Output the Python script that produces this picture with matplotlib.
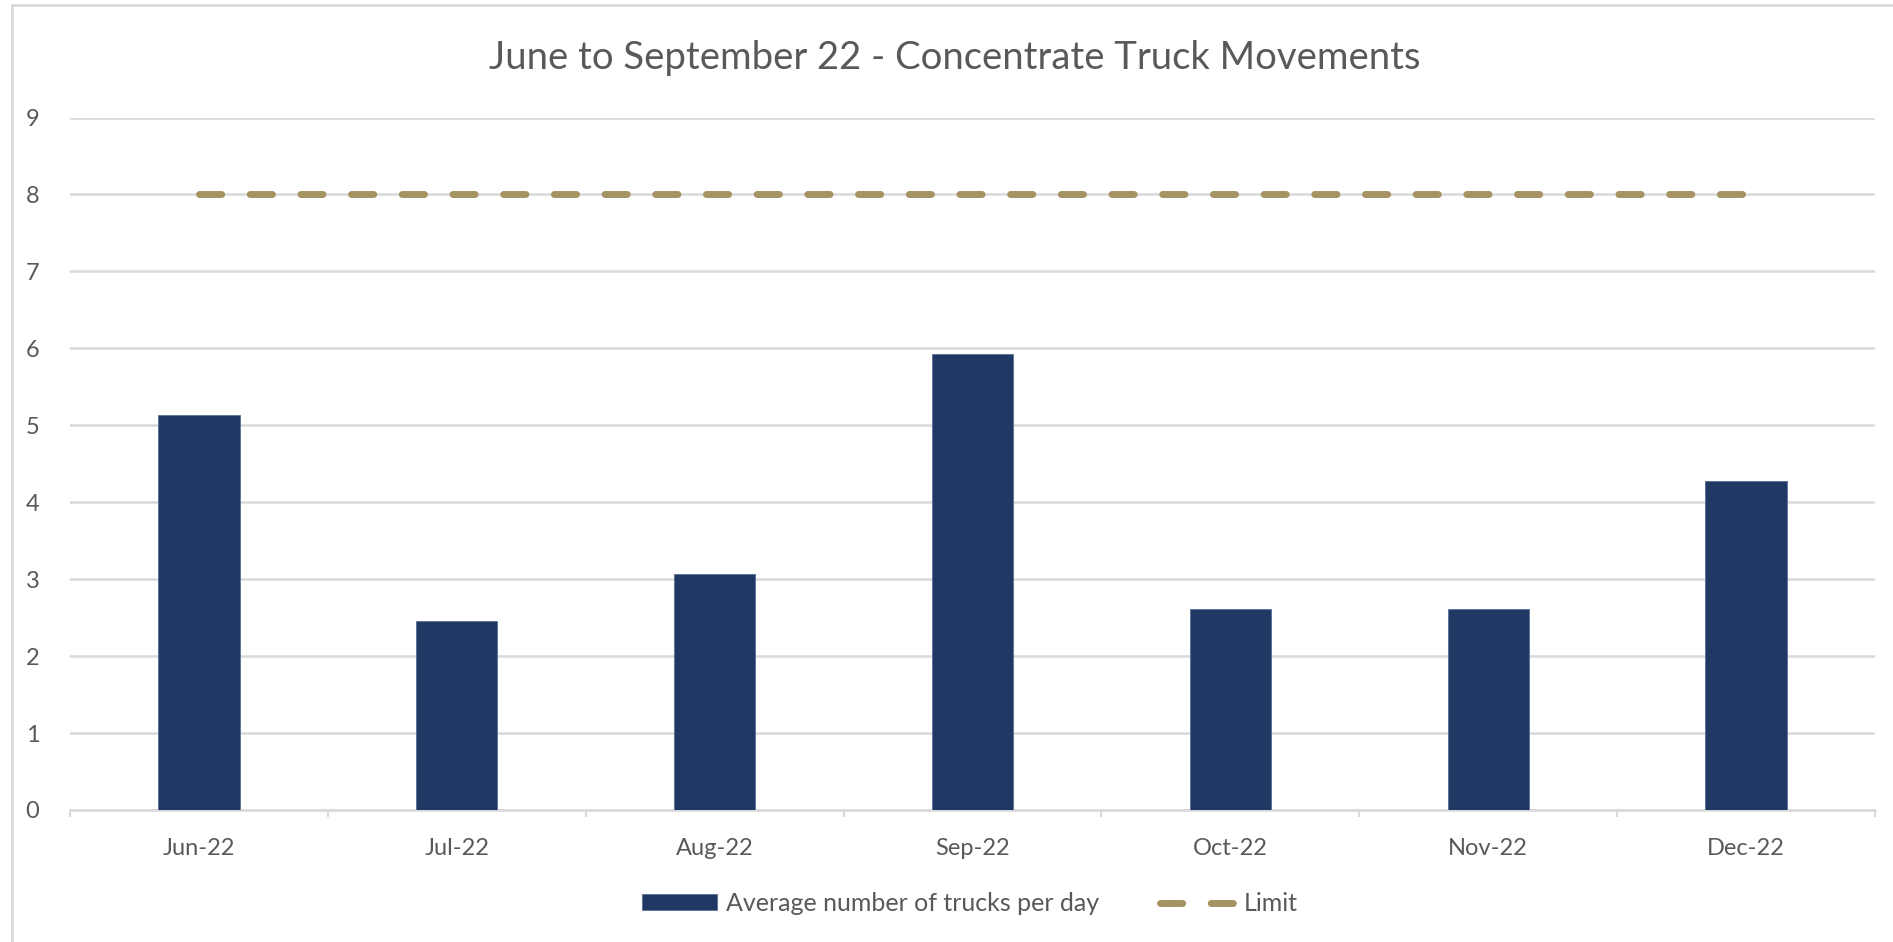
import matplotlib.pyplot as plt
from matplotlib.lines import Line2D
from matplotlib.patches import Patch, Rectangle
import numpy as np

# Dados
months = ["Jun-22", "Jul-22", "Aug-22", "Sep-22", "Oct-22", "Nov-22", "Dec-22"]
avg_trucks = [5.14, 2.46, 3.07, 5.92, 2.61, 2.61, 4.27]
limit = [8, 8, 8, 8, 8, 8, 8]

bar_color = "#1F3864"
limit_color = "#A69363"
text_color = "#595959"
grid_color = "#D9D9D9"

plt.rcParams["font.family"] = ["Lato", "DejaVu Sans"]

fig = plt.figure(figsize=(18.93, 9.42), dpi=100)
ax = fig.add_axes([70 / 1893, 1 - 810 / 942, 1805 / 1893, (810 - 117.5) / 942])

x = np.arange(len(months))
ax.bar(x, avg_trucks, width=0.315, color=bar_color, edgecolor="#5B6F96", linewidth=0.6, zorder=3)
ax.plot(x, limit, color=limit_color, linewidth=5, dashes=(3.2, 4.1),
        dash_capstyle="round", zorder=4)

ax.set_xlim(-0.5, len(months) - 0.5)
ax.set_ylim(0, 9)
ax.set_yticks(range(0, 10))
ax.set_xticks(x)
ax.set_xticklabels(months)
ax.set_xticks(np.arange(-0.5, len(months)), minor=True)
ax.tick_params(axis="x", which="major", length=0, pad=20, labelsize=17, labelcolor=text_color)
ax.tick_params(axis="x", which="minor", length=5, width=1.5, color=grid_color)
ax.tick_params(axis="y", length=0, pad=22, labelsize=17, labelcolor=text_color)

ax.grid(axis="y", color=grid_color, linewidth=1.8, zorder=0)
for side in ["top", "right", "left"]:
    ax.spines[side].set_visible(False)
ax.spines["bottom"].set_color(grid_color)
ax.spines["bottom"].set_linewidth(1.8)

fig.text(955 / 1893, 1 - 69.3 / 942, "June to September 22 - Concentrate Truck Movements",
         ha="center", va="baseline", fontsize=27.5, color=text_color)

handles = [
    Patch(facecolor=bar_color, edgecolor="#5B6F96", linewidth=0.6),
    Line2D([0], [0], color=limit_color, linewidth=5, dashes=(3.2, 4.1), dash_capstyle="round"),
]
fig.legend(handles, ["Average number of trucks per day", "Limit"], loc="center",
           bbox_to_anchor=(970 / 1893, 1 - 903.5 / 942), ncol=2, frameon=False,
           fontsize=18, labelcolor=text_color, handlelength=3.0, handleheight=0.6,
           handletextpad=0.36, columnspacing=2.4)

# Borda externa do gráfico
fig.patches.append(Rectangle((12 / 1893, -0.01), 1.0, 1 - 5 / 942 + 0.01, transform=fig.transFigure,
                             fill=False, edgecolor=grid_color, linewidth=2))

plt.savefig("out.png", dpi=100)
